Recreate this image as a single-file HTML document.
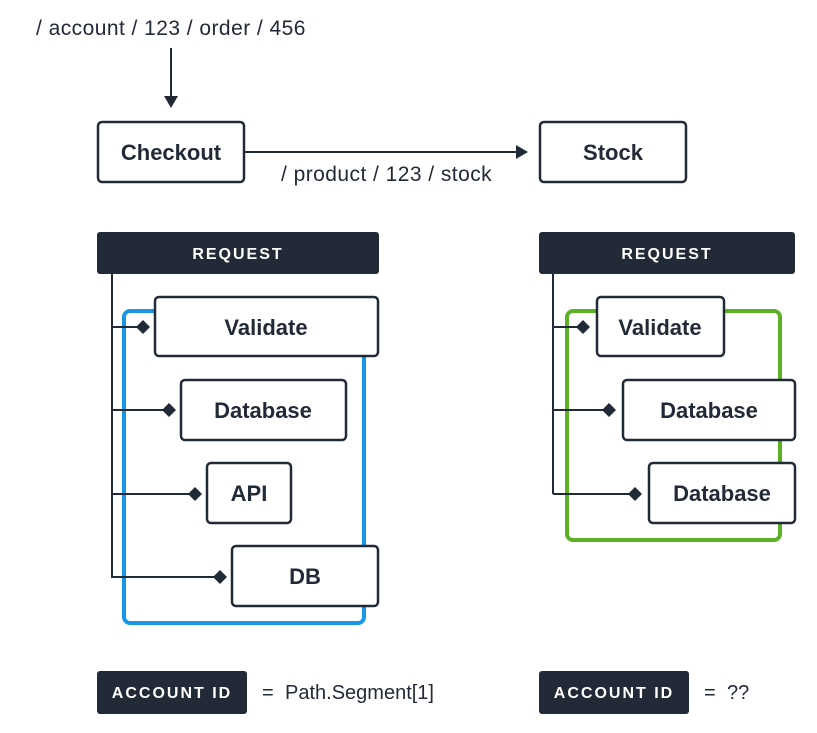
<!DOCTYPE html>
<html><head><meta charset="utf-8"><style>
html,body{margin:0;padding:0;background:#fff;}
svg{display:block;font-family:"Liberation Sans",sans-serif;}
.b{fill:#fff;stroke:#232a37;stroke-width:2.5;}
.t{font-weight:bold;font-size:22px;fill:#232a37;text-anchor:middle;}
.h{font-weight:bold;font-size:16px;fill:#fff;text-anchor:middle;letter-spacing:2px;}
.n{font-size:21px;fill:#232a37;letter-spacing:0.45px;}
.m{font-size:20px;fill:#232a37;}
.l{stroke:#232a37;stroke-width:2;fill:none;}
.d{fill:#232a37;}
</style></head><body>
<svg width="817" height="733" viewBox="0 0 817 733">
<text class="n" x="36" y="35">/ account / 123 / order / 456</text>
<line class="l" x1="171" y1="48" x2="171" y2="98"/>
<polygon class="d" points="164,96 178,96 171,108"/>
<rect class="b" x="98" y="122" width="146" height="60" rx="4"/>
<text class="t" x="171" y="160">Checkout</text>
<rect class="b" x="540" y="122" width="146" height="60" rx="4"/>
<text class="t" x="613" y="160">Stock</text>
<line class="l" x1="244" y1="152" x2="518" y2="152"/>
<polygon class="d" points="516,145 516,159 528,152"/>
<text class="n" x="281" y="181">/ product / 123 / stock</text>

<rect x="97" y="232" width="282" height="42" rx="3" fill="#232a37"/>
<text class="h" x="238" y="259">REQUEST</text>
<rect x="124" y="311" width="240" height="312" rx="6" fill="none" stroke="#1a96e6" stroke-width="4"/>
<path class="l" d="M112 274V578M112 327H143M112 410H169M112 494H195M112 577H220"/>
<polygon class="d" points="136,327 143,320 150,327 143,334"/>
<polygon class="d" points="162,410 169,403 176,410 169,417"/>
<polygon class="d" points="188,494 195,487 202,494 195,501"/>
<polygon class="d" points="213,577 220,570 227,577 220,584"/>
<rect class="b" x="155" y="297" width="223" height="59" rx="4"/>
<text class="t" x="266" y="335">Validate</text>
<rect class="b" x="181" y="380" width="165" height="60" rx="4"/>
<text class="t" x="263" y="418">Database</text>
<rect class="b" x="207" y="463" width="84" height="60" rx="4"/>
<text class="t" x="249" y="501">API</text>
<rect class="b" x="232" y="546" width="146" height="60" rx="4"/>
<text class="t" x="305" y="584">DB</text>

<rect x="539" y="232" width="256" height="42" rx="3" fill="#232a37"/>
<text class="h" x="667" y="259">REQUEST</text>
<rect x="567" y="311" width="213" height="229" rx="6" fill="none" stroke="#5bb025" stroke-width="4"/>
<path class="l" d="M553 274V494M553 327H583M553 410H609M553 494H635"/>
<polygon class="d" points="576,327 583,320 590,327 583,334"/>
<polygon class="d" points="602,410 609,403 616,410 609,417"/>
<polygon class="d" points="628,494 635,487 642,494 635,501"/>
<rect class="b" x="597" y="297" width="127" height="59" rx="4"/>
<text class="t" x="660" y="335">Validate</text>
<rect class="b" x="623" y="380" width="172" height="60" rx="4"/>
<text class="t" x="709" y="418">Database</text>
<rect class="b" x="649" y="463" width="146" height="60" rx="4"/>
<text class="t" x="722" y="501">Database</text>

<rect x="97" y="671" width="150" height="43" rx="3" fill="#232a37"/>
<text class="h" x="172" y="698">ACCOUNT ID</text>
<text class="m" x="262" y="699">=</text>
<text class="m" x="285" y="699">Path.Segment[1]</text>
<rect x="539" y="671" width="150" height="43" rx="3" fill="#232a37"/>
<text class="h" x="614" y="698">ACCOUNT ID</text>
<text class="m" x="704" y="699">=</text>
<text class="m" x="727" y="699">??</text>
</svg>
</body></html>
